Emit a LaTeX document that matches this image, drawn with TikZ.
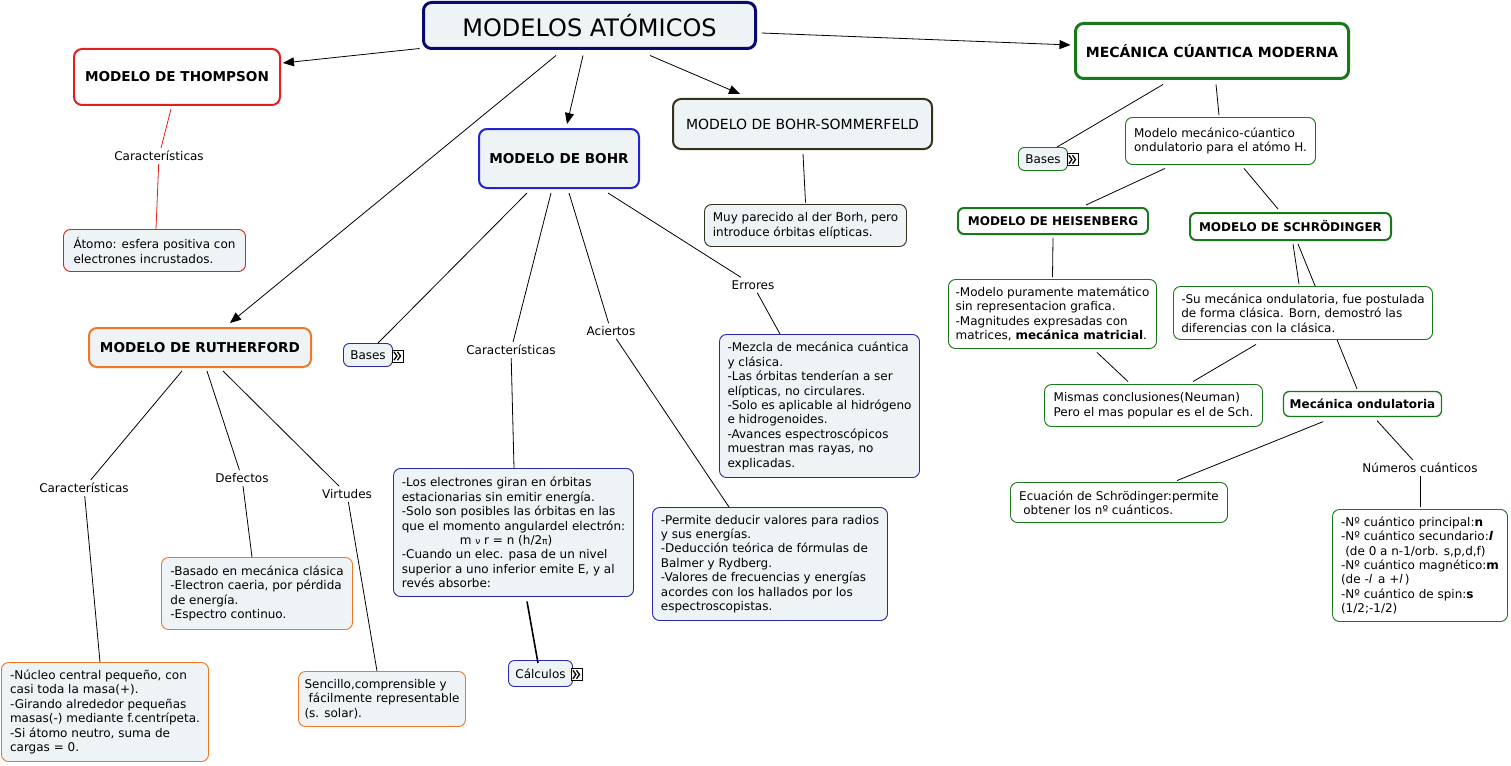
\documentclass[tikz,border=0pt]{standalone}
\usepackage{fontspec}
\setmainfont{DejaVu Sans}
\usetikzlibrary{arrows.meta}
\pgfdeclarelayer{bg}
\pgfsetlayers{bg,main}
\definecolor{lightf}{RGB}{238,243,246}
\definecolor{cnavy}{RGB}{10,10,110}
\definecolor{cred}{RGB}{222,32,32}
\definecolor{corange}{RGB}{238,120,40}
\definecolor{cblue}{RGB}{35,35,210}
\definecolor{cblue2}{RGB}{40,40,170}
\definecolor{colive}{RGB}{50,50,30}
\definecolor{cgreen}{RGB}{25,120,25}
\newcommand{\fsn}{\fontsize{12}{14.4}\selectfont}
\newcommand{\gsm}{\fontsize{9}{9}\selectfont}
\begin{document}
\begin{tikzpicture}[x=1pt,y=-1pt,
  box/.style={draw, line width=0.9pt, rounded corners=7pt, align=left, inner sep=0pt, font=\fsn},
  titlebox/.style={draw=cnavy, line width=3pt, rounded corners=8pt, fill=lightf, align=center, inner sep=0pt, font=\fontsize{24}{28}\selectfont},
  major/.style={draw, line width=2pt, rounded corners=8pt, align=center, inner sep=0pt, font=\bfseries\fontsize{13.6}{16}\selectfont},
  lbl/.style={font=\fsn, inner sep=3pt},
  conn/.style={draw, line width=0.8pt},
  arr/.style={conn, -{Triangle[length=11pt,width=9pt]}},
  icon/.style={draw, line width=0.6pt, fill=white, minimum width=11pt, minimum height=12pt, inner sep=0pt,
    path picture={
      \draw[line width=1.3pt, line join=miter]
        ([xshift=-3.6pt,yshift=4.2pt]path picture bounding box.center) -- ++(3pt,-4.2pt) -- ++(-3pt,-4.2pt);
      \draw[line width=1.3pt, line join=miter]
        ([xshift=0pt,yshift=4.2pt]path picture bounding box.center) -- ++(3pt,-4.2pt) -- ++(-3pt,-4.2pt);
    }}
]
\useasboundingbox (0,0) rectangle (1511,765);
\begin{pgfonlayer}{bg}
\fill[white] (0,0) rectangle (1511,765);
\end{pgfonlayer}

% ---------- title ----------
\node[titlebox, minimum width=332pt, minimum height=46pt] (title) at (589.5,25.5) {MODELOS ATÓMICOS};

% ---------- Thompson ----------
\node[major, draw=cred, fill=white, minimum width=206pt, minimum height=56pt] (thom) at (177,77) {MODELO DE THOMPSON};
\node[lbl] (thomcar) at (159,156) {Características};
\node[box, draw=cred, fill=lightf, minimum width=182pt, minimum height=42pt] (thomtxt) at (154.5,250.5) {Átomo: esfera positiva con\\electrones incrustados.};

% ---------- Rutherford ----------
\node[major, draw=corange, fill=lightf, minimum width=222pt, minimum height=39pt] (ruth) at (200,347.5) {MODELO DE RUTHERFORD};
\node[lbl] (ruthcar) at (84,488) {Características};
\node[lbl] (defectos) at (242,478) {Defectos};
\node[lbl] (virtudes) at (347,494) {Virtudes};
\node[box, draw=corange, fill=lightf, minimum width=191pt, minimum height=72pt] (def) at (257,593.5) {-Basado en mecánica clásica\\-Electron caeria, por pérdida\\de energía.\\-Espectro continuo.};
\node[box, draw=corange, fill=lightf, minimum width=207pt, minimum height=99pt] (nuc) at (105,712) {-Núcleo central pequeño, con\\casi toda la masa(+).\\-Girando alrededor pequeñas\\masas(-) mediante f.centrípeta.\\-Si átomo neutro, suma de\\cargas = 0.};
\node[box, draw=corange, fill=lightf, minimum width=167pt, minimum height=55pt] (sen) at (382,699) {Sencillo,comprensible y\\\hspace*{0.35em}fácilmente representable\\(s. solar).};

% ---------- Bohr ----------
\node[major, draw=cblue, fill=lightf, minimum width=160pt, minimum height=59pt] (bohr) at (559,158.5) {MODELO DE BOHR};
\node[box, draw=cblue2, fill=lightf, rounded corners=6pt, align=center, minimum width=49pt, minimum height=23pt] (basesB) at (368,355) {Bases};
\node[icon] (iconB) at (397.5,356) {};
\node[lbl] (bohrcar) at (511,350) {Características};
\node[lbl] (aciertos) at (611,331) {Aciertos};
\node[lbl] (errores) at (753,285) {Errores};
\node[box, draw=cblue2, fill=lightf, minimum width=240pt, minimum height=128pt] (bcbox) at (513.5,532.5) {-Los electrones giran en órbitas\\estacionarias sin emitir energía.\\-Solo son posibles las órbitas en las\\que el momento angulardel electrón:\\\hspace*{58pt}m {\gsm ν} r = n (h/2{\gsm π})\\-Cuando un elec. pasa de un nivel\\superior a uno inferior emite E, y al\\revés absorbe:};
\node[box, draw=cblue2, fill=lightf, minimum width=235pt, minimum height=113pt] (acbox) at (770,564) {-Permite deducir valores para radios\\y sus energías.\\-Deducción teórica de fórmulas de\\Balmer y Rydberg.\\-Valores de frecuencias y energías\\acordes con los hallados por los\\espectroscopistas.};
\node[box, draw=cblue2, fill=lightf, minimum width=200pt, minimum height=143pt] (erbox) at (819.5,406) {-Mezcla de mecánica cuántica\\y clásica.\\-Las órbitas tenderían a ser\\elípticas, no circulares.\\-Solo es aplicable al hidrógeno\\e hidrogenoides.\\-Avances espectroscópicos\\muestran mas rayas, no\\explicadas.};
\node[box, draw=cblue2, fill=lightf, rounded corners=6pt, align=center, minimum width=64pt, minimum height=26pt] (calc) at (540.5,673.5) {Cálculos};
\node[icon] (iconC) at (576.5,674.5) {};

% ---------- Bohr-Sommerfeld ----------
\node[major, draw=colive, fill=lightf, font=\fontsize{14}{17}\selectfont, minimum width=259pt, minimum height=50pt] (somm) at (802.5,124) {MODELO DE BOHR-SOMMERFELD};
\node[box, draw=colive, fill=lightf, minimum width=202pt, minimum height=42pt] (sommtxt) at (805.5,225.5) {Muy parecido al der Borh, pero\\introduce órbitas elípticas.};

% ---------- Mecanica cuantica ----------
\node[major, draw=cgreen, line width=3pt, fill=white, font=\bfseries\fontsize{14}{17}\selectfont, minimum width=273pt, minimum height=55pt] (mcm) at (1212,51) {MECÁNICA CÚANTICA MODERNA};
\node[box, draw=cgreen, fill=lightf, rounded corners=6pt, align=center, minimum width=49pt, minimum height=23pt] (basesM) at (1043,159) {Bases};
\node[icon] (iconM) at (1072.5,159.5) {};
\node[box, draw=cgreen, fill=white, minimum width=190pt, minimum height=47pt] (modelo) at (1220.5,141) {Modelo mecánico-cúantico\\ondulatorio para el atómo H.};
\node[major, draw=cgreen, fill=white, rounded corners=6pt, font=\bfseries\fontsize{12}{14}\selectfont, minimum width=190pt, minimum height=26pt] (heis) at (1053,221) {MODELO DE HEISENBERG};
\node[major, draw=cgreen, fill=white, rounded corners=6pt, font=\bfseries\fontsize{12}{14}\selectfont, minimum width=201pt, minimum height=27pt] (schr) at (1290.5,226.5) {MODELO DE SCHRÖDINGER};
\node[box, draw=cgreen, fill=white, minimum width=208pt, minimum height=69pt] (heistxt) at (1052.5,314) {-Modelo puramente matemático\\sin representacion grafica.\\-Magnitudes expresadas con\\matrices, \textbf{mecánica matricial}.};
\node[box, draw=cgreen, fill=white, minimum width=259pt, minimum height=53pt] (schrtxt) at (1303,313) {-Su mecánica ondulatoria, fue postulada\\de forma clásica. Born, demostró las\\diferencias con la clásica.};
\node[box, draw=cgreen, fill=white, minimum width=218pt, minimum height=42pt] (mismas) at (1153.5,405.5) {Mismas conclusiones(Neuman)\\Pero el mas popular es el de Sch.};
\node[box, draw=cgreen, fill=white, line width=1.3pt, rounded corners=6pt, align=center, font=\bfseries\fsn, minimum width=158pt, minimum height=25pt] (mond) at (1362.5,404) {Mecánica ondulatoria};
\node[box, draw=cgreen, fill=white, minimum width=217pt, minimum height=40pt] (ecu) at (1119,502.5) {Ecuación de Schrödinger:permite\\\hspace*{0.35em}obtener los nº cuánticos.};
\node[lbl] (num) at (1420,468) {Números cuánticos};
\node[box, draw=cgreen, fill=white, minimum width=175pt, minimum height=112pt] (nbox) at (1420,565.5) {-Nº cuántico principal:\textbf{n}\\-Nº cuántico secundario:\textbf{\textit{l}}\\\hspace*{0.35em}(de 0 a n-1/orb. s,p,d,f)\\-Nº cuántico magnético:\textbf{m}\\(de -\textit{l}\hspace{0.5em}a +\textit{l}\,)\\-Nº cuántico de spin:\textbf{s}\\(1/2;-1/2)};

% ---------- arrows from title ----------
\draw[arr] ([xshift=-2.5pt,yshift=1.5pt]title.south west) -- ([xshift=2pt,yshift=14pt]thom.east);
\draw[arr] ([xshift=-33.5pt,yshift=-5.5pt]title.south) -- ([xshift=30pt,yshift=4pt]ruth.north);
\draw[arr] ([xshift=-6.5pt,yshift=-5.5pt]title.south) -- ([xshift=8pt,yshift=4pt]bohr.north);
\draw[arr] ([xshift=60.5pt,yshift=-5.5pt]title.south) -- ([xshift=-62.5pt,yshift=4pt]somm.north);
\draw[arr] ([xshift=4.5pt,yshift=-7.5pt]title.east) -- ([xshift=-3.5pt,yshift=6pt]mcm.west);

% ---------- Thompson ----------
\draw[conn,cred] ([xshift=-6pt,yshift=-3pt]thom.south) -- (thomcar);
\draw[conn,cred] (thomcar) -- ([xshift=1.5pt]thomtxt.north);

% ---------- Rutherford ----------
\draw[conn] ([xshift=-18pt,yshift=-3pt]ruth.south) -- (ruthcar);
\draw[conn] (ruthcar) -- ([xshift=-5pt]nuc.north);
\draw[conn] ([xshift=7pt,yshift=-3pt]ruth.south) -- (defectos);
\draw[conn] (defectos) -- ([xshift=-5pt]def.north);
\draw[conn] ([xshift=23pt,yshift=-3pt]ruth.south) -- (virtudes);
\draw[conn] (virtudes) -- ([xshift=-5pt]sen.north);

% ---------- Bohr ----------
\draw[conn] ([xshift=-32pt,yshift=-4pt]bohr.south) -- ([xshift=10pt]basesB.north);
\draw[conn] ([xshift=-8pt,yshift=-4pt]bohr.south) -- (bohrcar);
\draw[conn] (bohrcar) -- ([xshift=0.5pt]bcbox.north);
\draw[conn] ([xshift=10pt,yshift=-4pt]bohr.south) -- (aciertos);
\draw[conn] (aciertos) -- ([xshift=-41pt]acbox.north);
\draw[conn] ([xshift=49pt,yshift=-4pt]bohr.south) -- (errores);
\draw[conn] (errores) -- ([xshift=-39.5pt]erbox.north);
\draw[conn, line width=1.6pt] ([xshift=13.5pt,yshift=-4.5pt]bcbox.south) -- ([xshift=-2.5pt,yshift=-3pt]calc.north);

% ---------- Sommerfeld ----------
\draw[conn] ([xshift=0.5pt,yshift=-4pt]somm.south) -- ([yshift=1.5pt]sommtxt.north);

% ---------- Mecanica cuantica ----------
\draw[conn] ([xshift=-49pt,yshift=-4.5pt]mcm.south) -- ([xshift=14pt]basesM.north);
\draw[conn] ([xshift=4pt,yshift=-4.5pt]mcm.south) -- ([xshift=-1.5pt,yshift=2pt]modelo.north);
\draw[conn] ([xshift=-55.5pt,yshift=-3.5pt]modelo.south) -- ([xshift=33pt,yshift=2pt]heis.north);
\draw[conn] ([xshift=23.5pt,yshift=-3.5pt]modelo.south) -- ([xshift=-12.5pt,yshift=3pt]schr.north);
\draw[conn] ([yshift=-3pt]heis.south) -- ([yshift=2pt]heistxt.north);
\draw[conn] ([xshift=2.5pt,yshift=-3pt]schr.south) -- ([xshift=-4pt,yshift=2pt]schrtxt.north);
\begin{pgfonlayer}{bg}
\draw[conn] ([xshift=7.5pt,yshift=-3pt]schr.south) -- ([xshift=-5.5pt,yshift=2pt]mond.north);
\end{pgfonlayer}
\draw[conn] ([xshift=44.5pt,yshift=-3.5pt]heistxt.south) -- ([xshift=-25.5pt,yshift=2.5pt]mismas.north);
\draw[conn] ([xshift=-47pt,yshift=-4.5pt]schrtxt.south) -- ([xshift=39.5pt,yshift=2.5pt]mismas.north);
\draw[conn] ([xshift=-39.5pt,yshift=-4.5pt]mond.south) -- ([xshift=58pt,yshift=1.5pt]ecu.north);
\draw[conn] ([xshift=14.5pt,yshift=-3.5pt]mond.south) -- (num);
\draw[conn] (num) -- ([yshift=2.5pt]nbox.north);
\end{tikzpicture}
\end{document}
